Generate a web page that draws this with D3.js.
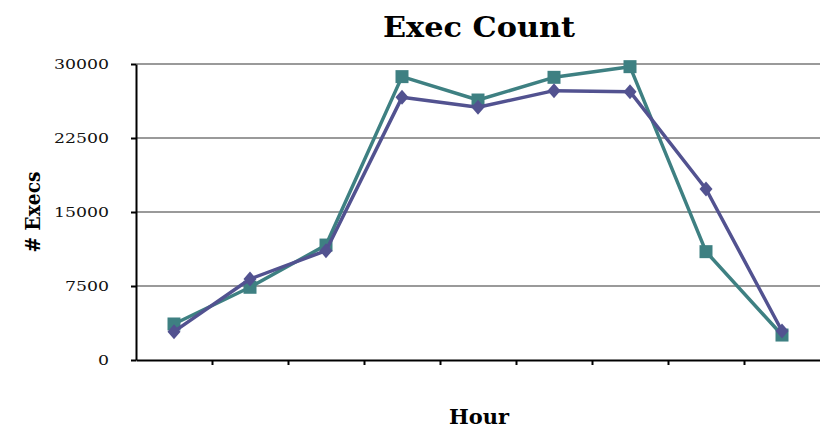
<!DOCTYPE html>
<html>
<head>
<meta charset="utf-8">
<script src="https://cdn.jsdelivr.net/npm/d3@7"></script>
<style>
  html, body { margin: 0; padding: 0; background: #fff; }
  svg { display: block; }
</style>
</head>
<body>
<svg id="chart" width="820" height="435"></svg>
<script>
// Hourly execution counts for two runs
const hours = ["1", "2", "3", "4", "5", "6", "7", "8", "9"];
const runA = [3650, 7370, 11650, 28720, 26350, 28650, 29730, 10980, 2530];
const runB = [2870, 8210, 11080, 26620, 25610, 27300, 27200, 17330, 2940];
const yTicks = [0, 7500, 15000, 22500, 30000];

const svg = d3.select("#chart");
const plot = { left: 136, right: 820, top: 64, bottom: 360 };
const serif = "'DejaVu Serif', 'Liberation Serif', serif";

const x = d3.scaleBand().domain(hours).range([plot.left, plot.right]);
const xEdge = d3.scaleLinear().domain([0, hours.length]).range([plot.left, plot.right]);
const y = d3.scaleLinear().domain([0, 30000]).range([plot.bottom, plot.top]);

// horizontal gridlines
svg.append("g")
  .selectAll("line")
  .data(yTicks.filter(d => d > 0))
  .join("line")
  .attr("x1", plot.left).attr("x2", plot.right)
  .attr("y1", d => y(d)).attr("y2", d => y(d))
  .attr("stroke", "#9a9a9a")
  .attr("stroke-width", 2);

// y axis
const yAxis = svg.append("g")
  .attr("transform", `translate(${plot.left},0)`)
  .call(d3.axisLeft(y).tickValues(yTicks).tickSizeInner(5).tickSizeOuter(0).tickPadding(22).tickFormat(d3.format("d")));
yAxis.select(".domain").attr("stroke", "#000").attr("stroke-width", 2);
yAxis.selectAll(".tick line").attr("stroke", "#000").attr("stroke-width", 2);
yAxis.selectAll(".tick text")
  .attr("font-family", serif)
  .attr("font-size", 12.5)
  .attr("fill", "#111")
  .attr("textLength", function() { return this.textContent.length * 11; })
  .attr("lengthAdjust", "spacingAndGlyphs");

// x axis: tick marks at category boundaries, no labels
const xAxis = svg.append("g")
  .attr("transform", `translate(0,${plot.bottom})`)
  .call(d3.axisBottom(xEdge).tickValues(d3.range(1, hours.length)).tickSizeInner(5).tickSizeOuter(0).tickFormat(""));
xAxis.select(".domain").attr("stroke", "#000").attr("stroke-width", 2);
xAxis.selectAll(".tick line").attr("stroke", "#000").attr("stroke-width", 2);

const cx = d => x(d) + x.bandwidth() / 2;
const line = d3.line().x(d => cx(d[0])).y(d => y(d[1]));

function drawSeries(values, color, shape) {
  const pts = hours.map((h, i) => [h, values[i]]);
  svg.append("path")
    .datum(pts)
    .attr("fill", "none")
    .attr("stroke", color)
    .attr("stroke-width", 3.5)
    .attr("stroke-linejoin", "round")
    .attr("d", line);
  svg.append("g")
    .selectAll("path")
    .data(pts)
    .join("path")
    .attr("transform", d => `translate(${cx(d[0])},${y(d[1])})`)
    .attr("d", shape)
    .attr("fill", color);
}

drawSeries(runA, "#3e8082", "M-6.5,-6.5H6.5V6.5H-6.5Z");
drawSeries(runB, "#525290", "M0,-7.5L6.5,0L0,7.5L-6.5,0Z");

// titles
svg.append("text")
  .attr("x", 479).attr("y", 37)
  .attr("text-anchor", "middle")
  .attr("font-family", serif)
  .attr("font-weight", "bold")
  .attr("font-size", 28)
  .attr("textLength", 192)
  .attr("lengthAdjust", "spacingAndGlyphs")
  .text("Exec Count");

svg.append("text")
  .attr("transform", "translate(40,212) rotate(-90)")
  .attr("text-anchor", "middle")
  .attr("font-family", serif)
  .attr("font-weight", "bold")
  .attr("font-size", 20)
  .attr("textLength", 81)
  .attr("lengthAdjust", "spacingAndGlyphs")
  .text("# Execs");

svg.append("text")
  .attr("x", 479).attr("y", 424)
  .attr("text-anchor", "middle")
  .attr("font-family", serif)
  .attr("font-weight", "bold")
  .attr("font-size", 20)
  .attr("textLength", 60)
  .attr("lengthAdjust", "spacingAndGlyphs")
  .text("Hour");
</script>
</body>
</html>
